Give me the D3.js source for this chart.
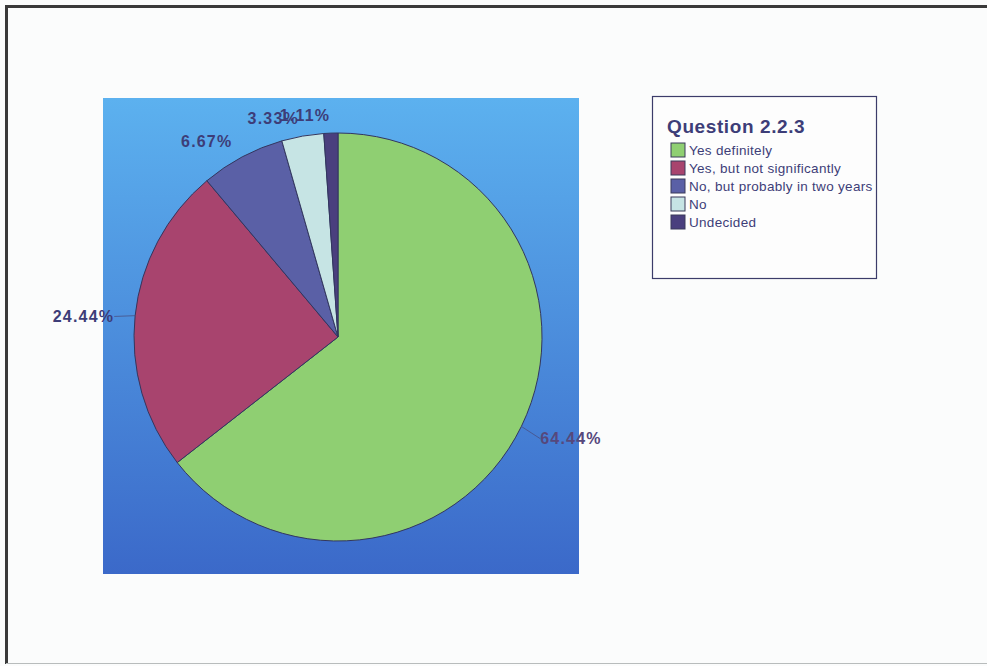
<!DOCTYPE html>
<html>
<head>
<meta charset="utf-8">
<script src="https://cdn.jsdelivr.net/npm/d3@7"></script>
<style>
  html, body { margin: 0; padding: 0; background: #fbfcfc; }
  svg { display: block; font-family: Arial, "Liberation Sans", sans-serif; }
</style>
</head>
<body>
<svg id="chart" width="987" height="666"></svg>
<script>
// Survey answers for Question 2.2.3 (share of respondents, %)
const categories = [
  "Yes definitely",
  "Yes, but not significantly",
  "No, but probably in two years",
  "No",
  "Undecided"
];
const values = [64.44, 24.44, 6.67, 3.33, 1.11];
const valueLabels = ["64.44%", "24.44%", "6.67%", "3.33%", "1.11%"];
const legendTitle = "Question 2.2.3";

// Slice fills
const sliceColors = ["#8fcf72", "#a8446e", "#5a60a6", "#c6e4e4", "#4a3f7e"];

const svg = d3.select("#chart");
const W = 987, H = 666;

// Outer frame
svg.append("rect").attr("x", 0).attr("y", 0).attr("width", W).attr("height", H).attr("fill", "#fbfcfc");
svg.append("line").attr("x1", 5).attr("x2", W).attr("y1", 6.5).attr("y2", 6.5)
  .attr("stroke", "#3a3a3a").attr("stroke-width", 3);
svg.append("line").attr("x1", 6.5).attr("x2", 6.5).attr("y1", 5).attr("y2", 664)
  .attr("stroke", "#3a3a3a").attr("stroke-width", 3);
svg.append("line").attr("x1", 6).attr("x2", W).attr("y1", 663.5).attr("y2", 663.5)
  .attr("stroke", "#b8bcbc").attr("stroke-width", 1);

// Plot area with vertical blue gradient
const defs = svg.append("defs");
const grad = defs.append("linearGradient").attr("id", "plotBg")
  .attr("x1", 0).attr("y1", 0).attr("x2", 0).attr("y2", 1);
grad.append("stop").attr("offset", "0%").attr("stop-color", "#5cb1ef");
grad.append("stop").attr("offset", "100%").attr("stop-color", "#3b69c9");

const plot = { x: 103, y: 98, w: 476, h: 476 };
svg.append("rect").attr("x", plot.x).attr("y", plot.y).attr("width", plot.w).attr("height", plot.h)
  .attr("fill", "url(#plotBg)");

// Pie
const cx = 338, cy = 337, R = 204;
const pie = d3.pie().sort(null).value(d => d.value);
const arcs = pie(values.map((v, i) => ({ value: v, i })));
const arc = d3.arc().innerRadius(0).outerRadius(R);
const labelArc = d3.arc().innerRadius(225).outerRadius(225);
const edgeArc = d3.arc().innerRadius(R).outerRadius(R);

const g = svg.append("g").attr("transform", `translate(${cx},${cy})`);
g.selectAll("path.slice").data(arcs).join("path")
  .attr("class", "slice")
  .attr("d", arc)
  .attr("fill", d => sliceColors[d.data.i])
  .attr("stroke", "#33365f")
  .attr("stroke-width", 1);

// Value labels sit just outside the rim; left-half labels end at the anchor point,
// right-half labels start there
const midAngle = d => (d.startAngle + d.endAngle) / 2;
const isRight = d => midAngle(d) < Math.PI;
const labelPos = arcs.map(d => {
  const c = labelArc.centroid(d);
  return [c[0], c[1] + 3];
});

// Leader lines for the two large slices
[0, 1].forEach(i => {
  const e = edgeArc.centroid(arcs[i]);
  const p = labelPos[i];
  g.append("line")
    .attr("x1", e[0]).attr("y1", e[1])
    .attr("x2", p[0]).attr("y2", p[1])
    .attr("stroke", "#4a4a7a").attr("stroke-width", 1).attr("opacity", 0.7);
});

g.selectAll("text.val").data(arcs).join("text")
  .attr("class", "val")
  .attr("x", (d, i) => labelPos[i][0])
  .attr("y", (d, i) => labelPos[i][1])
  .attr("text-anchor", d => isRight(d) ? "start" : "end")
  .attr("dominant-baseline", "central")
  .attr("font-size", 16)
  .attr("font-weight", "bold")
  .attr("letter-spacing", 1.2)
  .attr("fill", d => d.data.i === 0 ? "#56487c" : "#3d3d78")
  .text(d => valueLabels[d.data.i]);

// Legend
const lg = svg.append("g");
lg.append("rect").attr("x", 652.5).attr("y", 96.5).attr("width", 224).attr("height", 182)
  .attr("fill", "#fdfdfd").attr("stroke", "#3c3c6a").attr("stroke-width", 1.2);
lg.append("text").attr("x", 667).attr("y", 133)
  .attr("font-size", 19).attr("font-weight", "bold").attr("letter-spacing", 0.6)
  .attr("fill", "#3d3d78").text(legendTitle);

const rowY = d3.scalePoint().domain(d3.range(categories.length)).range([150, 222]);
const items = lg.selectAll("g.item").data(categories).join("g").attr("class", "item")
  .attr("transform", (d, i) => `translate(671,${rowY(i)})`);
items.append("rect").attr("x", 0).attr("y", -7).attr("width", 14).attr("height", 14)
  .attr("fill", (d, i) => sliceColors[i]).attr("stroke", "#3a3a5a").attr("stroke-width", 1);
items.append("text").attr("x", 18).attr("y", 0).attr("dominant-baseline", "central")
  .attr("font-size", 13.5).attr("letter-spacing", 0.3).attr("fill", "#3d3d78")
  .text(d => d);
</script>
</body>
</html>
